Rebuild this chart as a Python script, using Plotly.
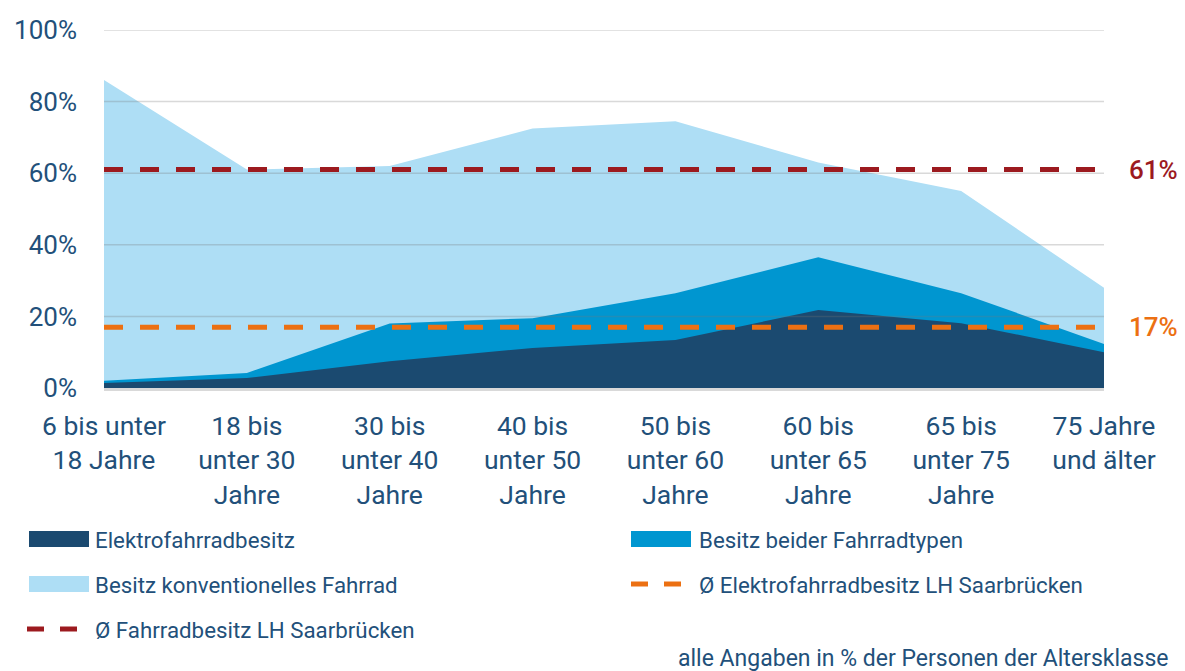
import plotly.graph_objects as go

# Altersklassen (x-Achse)
categories = [
    "6 bis unter<br>18 Jahre",
    "18 bis<br>unter 30<br>Jahre",
    "30 bis<br>unter 40<br>Jahre",
    "40 bis<br>unter 50<br>Jahre",
    "50 bis<br>unter 60<br>Jahre",
    "60 bis<br>unter 65<br>Jahre",
    "65 bis<br>unter 75<br>Jahre",
    "75 Jahre<br>und älter",
]

# Werte in % (Oberkante der jeweiligen Fläche)
fahrrad_konventionell = [86, 61, 62, 72.5, 74.5, 63, 55, 28]
beide_typen = [2, 4.2, 18, 19.5, 26.5, 36.5, 26.5, 12.3]
elektrofahrrad = [1.4, 2.8, 7.5, 11.2, 13.4, 21.8, 18.1, 10]

# Durchschnittswerte LH Saarbrücken
avg_fahrrad = 61
avg_elektro = 17

y_ticks = [0, 20, 40, 60, 80, 100]

TEXT = "#22507a"
C_DARK = "#1b4a70"
C_MID = "#0096d0"
C_LIGHT = "#aedef5"
C_RED = "#9c1a1f"
C_ORANGE = "#ec7012"
FONT = "Roboto"

# Seite hat 8px Body-Rand -> Figur etwas kleiner
OFF = 8
W, H = 1185 - OFF, 671 - OFF
L, R, T, B = 96, 81, 22, 283
PW, PH = W - L - R, H - T - B


# Umrechnung Pixel (Fenster) -> paper
def px_x(px):
    return (px - OFF - L) / PW


def px_y(py):
    return (H - B - (py - OFF)) / PH


fig = go.Figure()

for vals, col in [(fahrrad_konventionell, C_LIGHT), (beide_typen, C_MID), (elektrofahrrad, C_DARK)]:
    fig.add_trace(go.Scatter(
        x=categories, y=vals, mode="lines", fill="tozeroy",
        fillcolor=col, line=dict(width=0, color=col), showlegend=False,
        hoverinfo="skip",
    ))

for val, col in [(avg_fahrrad, C_RED), (avg_elektro, C_ORANGE)]:
    fig.add_trace(go.Scatter(
        x=categories, y=[val] * len(categories), mode="lines",
        line=dict(color=col, width=5, dash="19px,17px"), showlegend=False,
        hoverinfo="skip",
    ))
    fig.add_annotation(
        x=px_x(1127), xref="paper", y=val, yref="y", text=f"{val}%",
        showarrow=False, xanchor="left", yanchor="middle",
        font=dict(family=FONT, size=26, color=col, weight=500),
    )

# Gitterlinien über den Flächen
for v in y_ticks[1:]:
    fig.add_shape(type="line", xref="paper", x0=0, x1=1, yref="y", y0=v, y1=v,
                  line=dict(color="rgba(120,120,120,0.28)", width=1.5), layer="above")

# Legende (manuell)
legend_items = [
    ("Elektrofahrradbesitz", C_DARK, "box", 29, 95, 539),
    ("Besitz beider Fahrradtypen", C_MID, "box", 631, 699, 539),
    ("Besitz konventionelles Fahrrad", C_LIGHT, "box", 29, 95, 584),
    ("Ø Elektrofahrradbesitz LH Saarbrücken", C_ORANGE, "dash", 631, 699, 584),
    ("Ø Fahrradbesitz LH Saarbrücken", C_RED, "dash", 27, 95, 629),
]
for name, col, kind, sx, tx, cy in legend_items:
    if kind == "box":
        fig.add_shape(type="rect", xref="paper", yref="paper",
                      x0=px_x(sx), x1=px_x(sx + 60), y0=px_y(cy + 8), y1=px_y(cy - 8),
                      fillcolor=col, line=dict(width=0))
    else:
        for d0 in (0, 33):
            fig.add_shape(type="line", xref="paper", yref="paper",
                          x0=px_x(sx + d0), x1=px_x(sx + d0 + 17), y0=px_y(cy), y1=px_y(cy),
                          line=dict(color=col, width=5))
    fig.add_annotation(x=px_x(tx - 2), y=px_y(cy + 1), xref="paper", yref="paper", text=name,
                       showarrow=False, xanchor="left", yanchor="middle",
                       font=dict(family=FONT, size=22.3, color=TEXT))

fig.add_annotation(x=px_x(1170), y=px_y(643), xref="paper", yref="paper",
                   text="alle Angaben in % der Personen der Altersklasse",
                   showarrow=False, xanchor="right", yanchor="top",
                   font=dict(family=FONT, size=23, color=TEXT))

fig.update_layout(
    width=W, height=H,
    margin=dict(l=L, r=R, t=T, b=B),
    plot_bgcolor="white", paper_bgcolor="white",
    font=dict(family=FONT, color=TEXT),
    hovermode=False,
)
fig.update_xaxes(
    type="category", range=[0, len(categories) - 1], showgrid=False, automargin=False,
    showline=True, linecolor="#d9d9d9", linewidth=3,
    tickfont=dict(family=FONT, size=26.5, color=TEXT), ticks="", ticklabelstandoff=12,
)
fig.update_yaxes(
    range=[0, 100], tickvals=y_ticks, ticktext=[f"{v}%" for v in y_ticks],
    showgrid=False, zeroline=False, ticks="", automargin=False,
    tickfont=dict(family=FONT, size=26, color=TEXT), ticklabelstandoff=26,
)

fig.write_html("out.html")
